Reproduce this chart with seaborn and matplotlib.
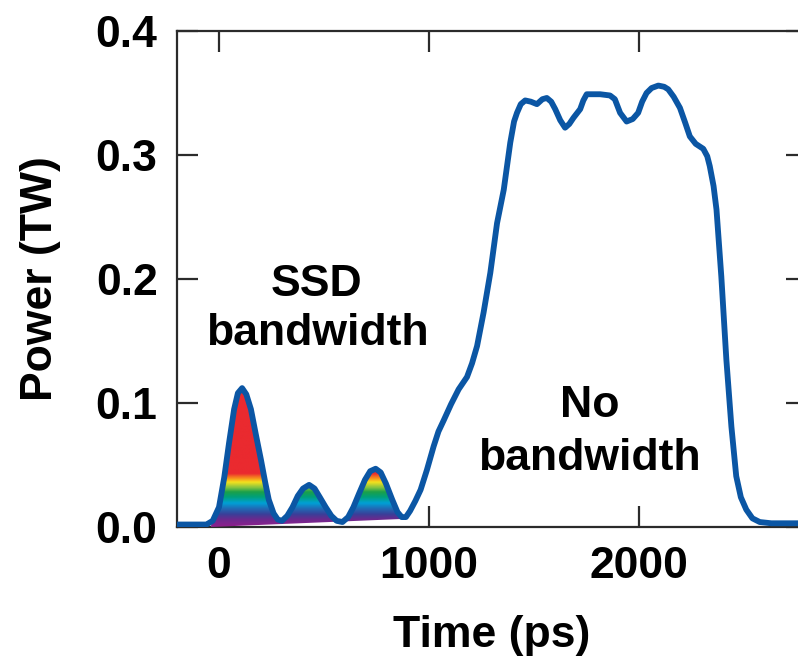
import numpy as np
import matplotlib
matplotlib.use('Agg')
import matplotlib.pyplot as plt
import seaborn as sns
from matplotlib.colors import LinearSegmentedColormap
from matplotlib.patches import Polygon

# ==================== data ====================
time_ps = [-200, -100, -60, -30, 0, 25, 48, 72, 90, 110, 130, 152, 175, 200, 220,
           237, 260, 280, 300, 325, 350, 375, 400, 429, 455, 480, 508, 535, 560,
           588, 615, 640, 667, 695, 720, 746, 770, 795, 825, 850, 870, 890, 910,
           935, 960, 990, 1022, 1045, 1070, 1105, 1141, 1165, 1181, 1205, 1229,
           1260, 1292, 1324, 1356, 1387, 1405, 1419, 1437, 1458, 1485, 1514, 1540,
           1561, 1582, 1601, 1625, 1648, 1668, 1688, 1720, 1735, 1751, 1780, 1815,
           1862, 1885, 1910, 1941, 1970, 1996, 2015, 2036, 2060, 2092, 2120, 2139,
           2165, 2195, 2220, 2242, 2270, 2306, 2325, 2337, 2355, 2369, 2392, 2416,
           2440, 2463, 2485, 2511, 2540, 2575, 2630, 2685, 2800]
power_tw = [0.002, 0.002, 0.002, 0.005, 0.016, 0.040, 0.068, 0.095, 0.108, 0.112,
            0.107, 0.095, 0.075, 0.054, 0.036, 0.022, 0.011, 0.006, 0.005, 0.009,
            0.016, 0.025, 0.031, 0.034, 0.031, 0.024, 0.016, 0.009, 0.005, 0.004,
            0.008, 0.016, 0.027, 0.038, 0.045, 0.047, 0.044, 0.035, 0.022, 0.012,
            0.008, 0.008, 0.013, 0.021, 0.030, 0.046, 0.065, 0.077, 0.086, 0.099,
            0.111, 0.117, 0.121, 0.132, 0.146, 0.173, 0.205, 0.245, 0.272, 0.310,
            0.327, 0.334, 0.341, 0.344, 0.343, 0.341, 0.345, 0.346, 0.343, 0.337,
            0.328, 0.322, 0.325, 0.330, 0.337, 0.344, 0.349, 0.349, 0.349, 0.348,
            0.345, 0.334, 0.327, 0.329, 0.334, 0.343, 0.350, 0.354, 0.356, 0.355,
            0.353, 0.347, 0.338, 0.326, 0.315, 0.309, 0.305, 0.299, 0.291, 0.275,
            0.256, 0.202, 0.135, 0.081, 0.041, 0.024, 0.014, 0.007, 0.004, 0.003,
            0.003, 0.003]

# SSD-bandwidth region (rainbow fill) and its sloped bottom edge
ssd_start, ssd_end = -40, 875
ssd_base = [0.0, 0.0065]

x_ticks = [0, 1000, 2000]
y_ticks = [0.0, 0.1, 0.2, 0.3, 0.4]

# rainbow stops: (power level, colour)
rainbow = [(0.000, '#8e1f8c'), (0.006, '#6a2a8e'), (0.010, '#3a3f99'),
           (0.015, '#1e6fb8'), (0.019, '#00a0d6'), (0.024, '#00a07a'),
           (0.028, '#1aa04a'), (0.032, '#8dc63f'), (0.036, '#f5e11d'),
           (0.039, '#f7941d'), (0.043, '#ea2a2f'), (0.120, '#ea2a2f')]

# ==================== plot ====================
sns.set_theme(style='ticks')
plt.rcParams['font.family'] = ['Liberation Sans', 'DejaVu Sans']
plt.rcParams['font.weight'] = 'bold'
plt.rcParams['text.color'] = 'black'

dark = '#2b2b2b'
blue = '#0b56a4'
fs = 32

fig = plt.figure(figsize=(7.98, 6.57), dpi=100)
ax = fig.add_axes([177 / 798, 130 / 657, 630 / 798, 496 / 657])

t = np.array(time_ps)
p = np.array(power_tw)

# rainbow gradient clipped to area under the first three pulses
top_max = rainbow[-1][0]
cmap = LinearSegmentedColormap.from_list(
    'ssd', [(lvl / top_max, c) for lvl, c in rainbow])
grad = np.linspace(0, top_max, 400).reshape(-1, 1)
img = ax.imshow(grad, extent=[ssd_start, ssd_end, 0, top_max], origin='lower',
                aspect='auto', cmap=cmap, vmin=0, vmax=top_max, zorder=3)
mask = (t > ssd_start) & (t < ssd_end)
verts = [(ssd_start, ssd_base[0])] + list(zip(t[mask], p[mask])) + [(ssd_end, ssd_base[1])]
clip = Polygon(verts, closed=True, transform=ax.transData, facecolor='none', edgecolor='none')
ax.add_patch(clip)
img.set_clip_path(clip)

sns.lineplot(x=time_ps, y=power_tw, ax=ax, color=blue, lw=4.2, zorder=4,
             solid_joinstyle='round', solid_capstyle='round')

ax.set_xlim(-200, 2800)
ax.set_ylim(0, 0.4)
ax.set_xticks(x_ticks)
ax.set_yticks(y_ticks)
ax.set_yticklabels([f'{v:.1f}' for v in y_ticks])
ax.tick_params(direction='in', length=15, width=1.6, color=dark, labelcolor='black',
               top=True, right=True, labelsize=fs)
ax.tick_params(axis='y', pad=14)
ax.tick_params(axis='x', pad=14)
for s in ax.spines.values():
    s.set_color(dark)
    s.set_linewidth(1.6)
    s.set_visible(True)

ax.set_xlabel('Time (ps)', fontsize=fs, fontweight='bold', labelpad=20, color='black')
ax.set_ylabel('Power (TW)', fontsize=fs, fontweight='bold', labelpad=25, color='black')

# annotations (one text per line, placed at baselines)
for x, y, s in [(466, 0.1859, 'SSD'), (466, 0.1471, 'bandwidth'),
                (1765, 0.0891, 'No'), (1765, 0.0461, 'bandwidth')]:
    ax.text(x, y, s, ha='center', va='baseline', fontsize=fs, fontweight='bold',
            color='black', zorder=5)

fig.savefig('out.png', dpi=100)
